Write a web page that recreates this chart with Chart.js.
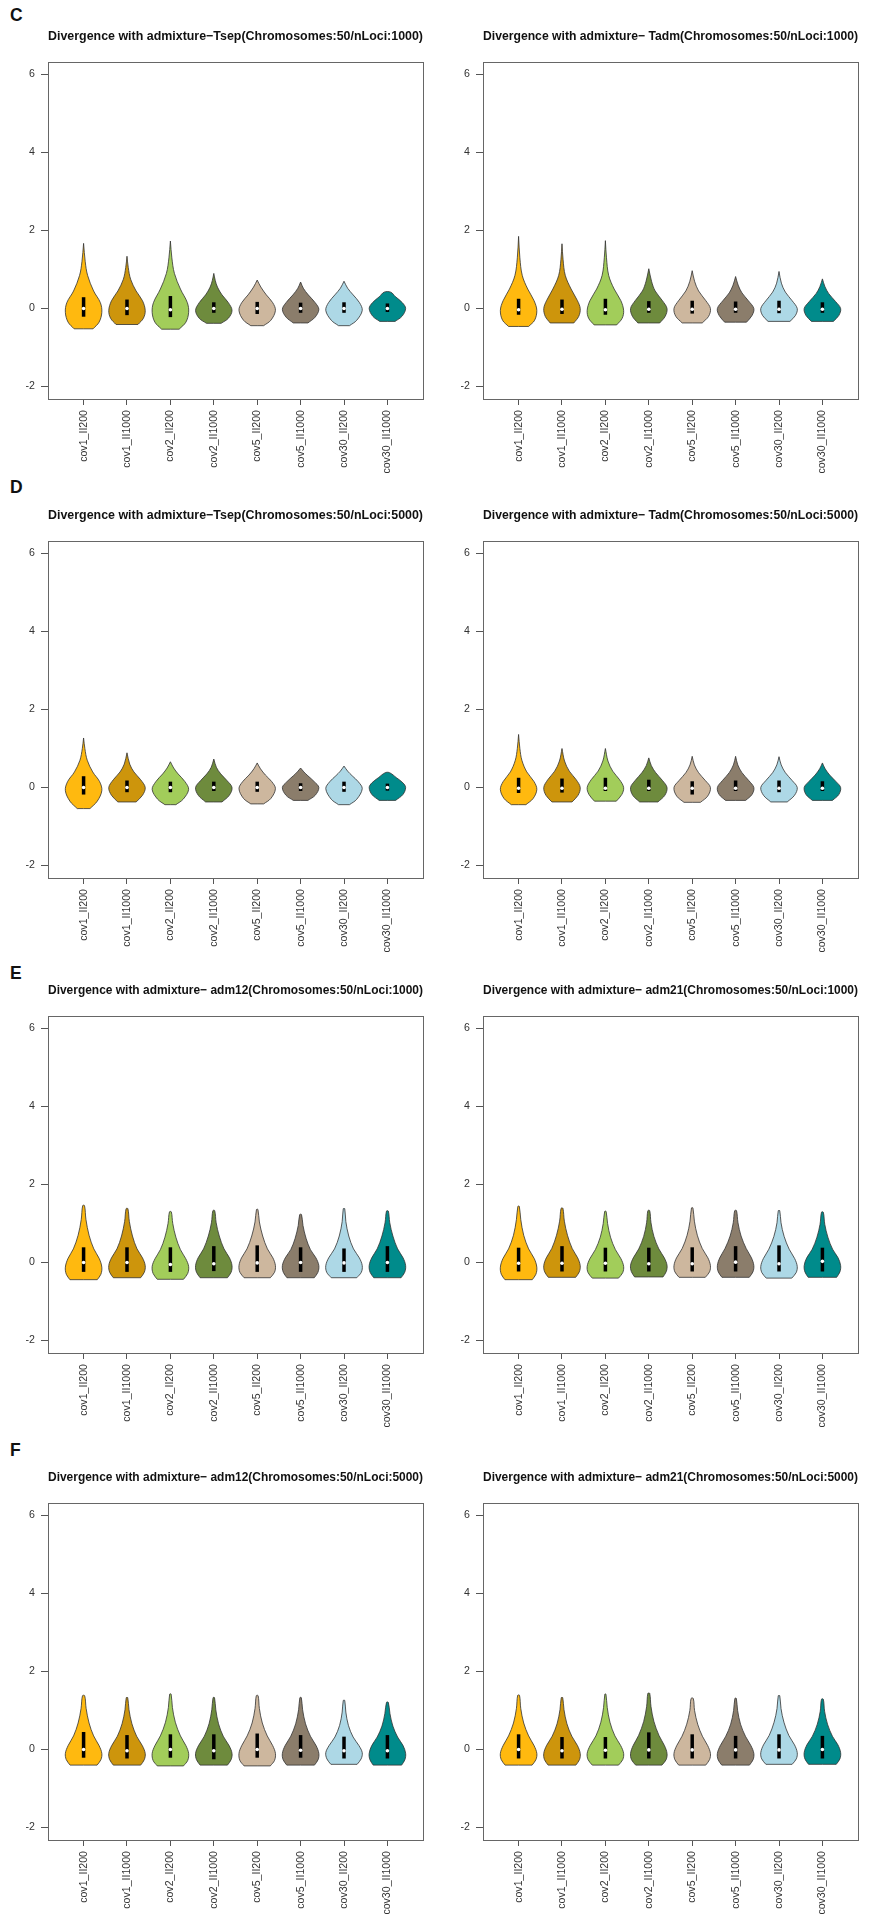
<!DOCTYPE html>
<html>
<head>
<meta charset="utf-8">
<title>Divergence with admixture</title>
<script src="https://cdn.jsdelivr.net/npm/chart.js@4.4.1/dist/chart.umd.min.js"></script>
<style>
  body { margin: 0; width: 869px; height: 1917px; overflow: hidden; background: #fff; position: relative;
         font-family: "Liberation Sans", Arial, sans-serif; }
  canvas { position: absolute; }
  .tag { position: absolute; left: 10px; font-weight: bold; font-size: 17.5px; line-height: 1; color: #111; }
</style>
</head>
<body>
<div class="tag" style="top:6.5px">C</div>
<div class="tag" style="top:478.5px">D</div>
<div class="tag" style="top:964.5px">E</div>
<div class="tag" style="top:1441.5px">F</div>

<script>
// categories and shared axis settings
const categories = ['cov1_II200', 'cov1_II1000', 'cov2_II200', 'cov2_II1000',
                    'cov5_II200', 'cov5_II1000', 'cov30_II200', 'cov30_II1000'];
const fills = ['#FFB90F', '#CD950C', '#A2CD5A', '#6E8B3D', '#CDB79E', '#8B7D6B', '#ADD8E6', '#008B8B'];
const yTicks = [-2, 0, 2, 4, 6];

// Each violin outline: [y, relative half width] knots, from the lower cut to the tip.
// Tsep, nLoci 1000
const tsep1000Shape = [
  [[-0.52,0.52],[-0.35,0.85],[-0.1,1],[0.15,0.92],[0.45,0.55],[0.85,0.22],[1.2,0.09],[1.67,0]],
  [[-0.41,0.6],[-0.25,0.9],[-0.05,1],[0.2,0.85],[0.45,0.5],[0.75,0.2],[1.05,0.07],[1.34,0]],
  [[-0.53,0.48],[-0.35,0.85],[-0.1,1],[0.15,0.93],[0.5,0.55],[0.9,0.22],[1.3,0.08],[1.73,0]],
  [[-0.38,0.4],[-0.25,0.8],[-0.05,1],[0.15,0.8],[0.35,0.45],[0.55,0.2],[0.72,0.08],[0.9,0]],
  [[-0.44,0.35],[-0.3,0.75],[-0.05,1],[0.15,0.85],[0.35,0.5],[0.55,0.2],[0.73,0]],
  [[-0.37,0.4],[-0.22,0.8],[-0.02,1],[0.15,0.8],[0.35,0.42],[0.52,0.15],[0.68,0]],
  [[-0.44,0.3],[-0.3,0.7],[-0.05,1],[0.15,0.85],[0.35,0.5],[0.52,0.2],[0.7,0]],
  [[-0.33,0.42],[-0.2,0.8],[0,1],[0.15,0.82],[0.3,0.45],[0.42,0.18]]
];
const tsep1000Q1 = [-0.21, -0.17, -0.22, -0.11, -0.14, -0.11, -0.11, -0.09];
const tsep1000Median = [0, 0, -0.03, 0, 0, 0, 0, 0];
const tsep1000Q3 = [0.29, 0.23, 0.32, 0.16, 0.17, 0.15, 0.16, 0.13];

// Tadm, nLoci 1000
const tadm1000Shape = [
  [[-0.46,0.55],[-0.3,0.88],[-0.05,1],[0.2,0.85],[0.5,0.5],[0.85,0.2],[1.3,0.07],[1.85,0]],
  [[-0.37,0.65],[-0.2,0.92],[0,1],[0.2,0.85],[0.5,0.5],[0.85,0.18],[1.25,0.06],[1.66,0]],
  [[-0.42,0.62],[-0.25,0.92],[-0.05,1],[0.2,0.85],[0.5,0.48],[0.85,0.18],[1.3,0.06],[1.74,0]],
  [[-0.37,0.6],[-0.2,0.9],[0,1],[0.2,0.75],[0.45,0.35],[0.7,0.15],[1.02,0]],
  [[-0.37,0.55],[-0.2,0.9],[0,1],[0.2,0.75],[0.45,0.35],[0.7,0.13],[0.97,0]],
  [[-0.35,0.6],[-0.18,0.9],[0,1],[0.2,0.7],[0.4,0.35],[0.6,0.14],[0.82,0]],
  [[-0.33,0.6],[-0.18,0.9],[0,1],[0.2,0.72],[0.42,0.35],[0.65,0.13],[0.95,0]],
  [[-0.33,0.6],[-0.18,0.9],[0,1],[0.18,0.72],[0.38,0.35],[0.56,0.14],[0.76,0]]
];
const tadm1000Q1 = [-0.16, -0.14, -0.16, -0.11, -0.13, -0.11, -0.12, -0.11];
const tadm1000Median = [-0.03, -0.02, -0.03, -0.02, -0.02, -0.02, -0.02, -0.02];
const tadm1000Q3 = [0.25, 0.23, 0.25, 0.19, 0.2, 0.18, 0.2, 0.16];

// Tsep, nLoci 5000
const tsep5000Shape = [
  [[-0.54,0.35],[-0.35,0.75],[-0.08,1],[0.15,0.88],[0.4,0.5],[0.7,0.2],[1.0,0.07],[1.27,0]],
  [[-0.37,0.5],[-0.2,0.85],[0,1],[0.2,0.75],[0.4,0.38],[0.6,0.15],[0.89,0]],
  [[-0.44,0.3],[-0.3,0.7],[-0.05,1],[0.15,0.8],[0.35,0.42],[0.5,0.18],[0.66,0]],
  [[-0.37,0.45],[-0.2,0.85],[0,1],[0.18,0.72],[0.35,0.38],[0.52,0.14],[0.73,0]],
  [[-0.42,0.35],[-0.28,0.75],[-0.03,1],[0.15,0.8],[0.32,0.45],[0.48,0.18],[0.63,0]],
  [[-0.33,0.4],[-0.2,0.8],[0,1],[0.15,0.75],[0.3,0.4],[0.4,0.18],[0.5,0]],
  [[-0.44,0.3],[-0.3,0.7],[-0.03,1],[0.15,0.78],[0.3,0.45],[0.42,0.2],[0.55,0]],
  [[-0.33,0.45],[-0.18,0.85],[0,1],[0.12,0.85],[0.25,0.5],[0.38,0.12]]
];
const tsep5000Q1 = [-0.18, -0.12, -0.12, -0.09, -0.11, -0.09, -0.11, -0.08];
const tsep5000Median = [0, 0, 0, 0, 0, 0, 0, 0];
const tsep5000Q3 = [0.29, 0.18, 0.15, 0.15, 0.15, 0.11, 0.15, 0.1];

// Tadm, nLoci 5000
const tadm5000Shape = [
  [[-0.44,0.4],[-0.28,0.8],[-0.05,1],[0.15,0.85],[0.4,0.45],[0.7,0.18],[1.0,0.07],[1.36,0]],
  [[-0.37,0.55],[-0.2,0.88],[0,1],[0.2,0.78],[0.42,0.4],[0.68,0.14],[1.0,0]],
  [[-0.35,0.6],[-0.18,0.9],[0,1],[0.2,0.78],[0.42,0.4],[0.68,0.14],[1.0,0]],
  [[-0.37,0.5],[-0.2,0.88],[0,1],[0.18,0.75],[0.38,0.38],[0.56,0.14],[0.76,0]],
  [[-0.38,0.45],[-0.22,0.85],[0,1],[0.18,0.72],[0.38,0.35],[0.58,0.12],[0.8,0]],
  [[-0.33,0.55],[-0.18,0.9],[0,1],[0.18,0.72],[0.38,0.35],[0.58,0.12],[0.8,0]],
  [[-0.37,0.45],[-0.2,0.85],[0,1],[0.18,0.72],[0.38,0.35],[0.58,0.12],[0.79,0]],
  [[-0.33,0.55],[-0.18,0.9],[0,1],[0.15,0.75],[0.32,0.4],[0.48,0.15],[0.63,0]]
];
const tadm5000Q1 = [-0.14, -0.13, -0.09, -0.09, -0.18, -0.09, -0.12, -0.09];
const tadm5000Median = [-0.02, -0.02, -0.02, -0.02, -0.02, -0.02, -0.02, -0.02];
const tadm5000Q3 = [0.25, 0.23, 0.25, 0.2, 0.16, 0.18, 0.18, 0.16];

// adm12, nLoci 1000
const adm12k1Shape = [
  [[-0.44,0.75],[-0.3,0.95],[-0.12,1],[0.1,0.86],[0.35,0.56],[0.7,0.3],[1.1,0.13],[1.46,0.05]],
  [[-0.39,0.75],[-0.25,0.95],[-0.08,1],[0.12,0.85],[0.35,0.55],[0.68,0.3],[1.05,0.13],[1.38,0.05]],
  [[-0.43,0.72],[-0.28,0.95],[-0.1,1],[0.1,0.84],[0.33,0.55],[0.65,0.3],[1.0,0.13],[1.3,0.05]],
  [[-0.39,0.75],[-0.25,0.95],[-0.08,1],[0.12,0.86],[0.35,0.56],[0.68,0.3],[1.02,0.13],[1.33,0.05]],
  [[-0.39,0.72],[-0.25,0.95],[-0.08,1],[0.12,0.86],[0.35,0.56],[0.68,0.3],[1.04,0.12],[1.36,0.04]],
  [[-0.39,0.75],[-0.25,0.95],[-0.08,1],[0.12,0.84],[0.33,0.54],[0.62,0.3],[0.95,0.13],[1.23,0.05]],
  [[-0.39,0.7],[-0.25,0.95],[-0.08,1],[0.12,0.84],[0.35,0.52],[0.68,0.26],[1.05,0.1],[1.38,0.04]],
  [[-0.39,0.75],[-0.25,0.95],[-0.08,1],[0.12,0.86],[0.35,0.56],[0.68,0.3],[1.02,0.13],[1.32,0.05]]
];
const adm12k1Q1 = [-0.24, -0.24, -0.24, -0.22, -0.24, -0.24, -0.24, -0.24];
const adm12k1Median = [0, 0, -0.05, -0.03, -0.01, 0, -0.01, 0];
const adm12k1Q3 = [0.39, 0.39, 0.39, 0.42, 0.44, 0.39, 0.36, 0.42];

// adm21, nLoci 1000
const adm21k1Shape = [
  [[-0.44,0.75],[-0.3,0.95],[-0.12,1],[0.1,0.86],[0.35,0.55],[0.7,0.28],[1.1,0.12],[1.44,0.04]],
  [[-0.38,0.75],[-0.24,0.95],[-0.08,1],[0.12,0.86],[0.36,0.56],[0.7,0.3],[1.06,0.13],[1.39,0.05]],
  [[-0.4,0.72],[-0.26,0.95],[-0.1,1],[0.1,0.85],[0.33,0.55],[0.65,0.28],[1.0,0.12],[1.31,0.04]],
  [[-0.37,0.78],[-0.23,0.96],[-0.07,1],[0.12,0.85],[0.35,0.55],[0.67,0.28],[1.02,0.12],[1.33,0.05]],
  [[-0.38,0.72],[-0.24,0.95],[-0.08,1],[0.12,0.86],[0.36,0.55],[0.7,0.28],[1.06,0.12],[1.4,0.04]],
  [[-0.38,0.75],[-0.24,0.95],[-0.08,1],[0.12,0.87],[0.36,0.58],[0.68,0.3],[1.02,0.13],[1.33,0.05]],
  [[-0.4,0.7],[-0.26,0.94],[-0.1,1],[0.1,0.86],[0.34,0.56],[0.67,0.28],[1.02,0.11],[1.33,0.04]],
  [[-0.38,0.78],[-0.24,0.96],[-0.08,1],[0.12,0.86],[0.34,0.56],[0.65,0.3],[0.98,0.13],[1.29,0.05]]
];
const adm21k1Q1 = [-0.23, -0.23, -0.23, -0.23, -0.23, -0.23, -0.23, -0.23];
const adm21k1Median = [-0.02, -0.02, -0.02, -0.03, -0.03, 0.01, -0.03, 0.03];
const adm21k1Q3 = [0.38, 0.42, 0.38, 0.38, 0.39, 0.42, 0.44, 0.38];

// adm12, nLoci 5000
const adm12k5Shape = [
  [[-0.4,0.74],[-0.26,0.95],[-0.1,1],[0.1,0.85],[0.35,0.55],[0.68,0.3],[1.05,0.14],[1.38,0.06]],
  [[-0.4,0.75],[-0.26,0.95],[-0.1,1],[0.1,0.84],[0.34,0.53],[0.66,0.27],[1.02,0.11],[1.33,0.04]],
  [[-0.42,0.72],[-0.28,0.95],[-0.1,1],[0.1,0.85],[0.35,0.55],[0.7,0.27],[1.08,0.11],[1.42,0.04]],
  [[-0.4,0.75],[-0.26,0.95],[-0.1,1],[0.1,0.84],[0.34,0.52],[0.66,0.26],[1.02,0.11],[1.33,0.04]],
  [[-0.42,0.72],[-0.28,0.95],[-0.1,1],[0.1,0.85],[0.35,0.55],[0.68,0.28],[1.05,0.12],[1.38,0.05]],
  [[-0.4,0.76],[-0.26,0.96],[-0.1,1],[0.1,0.85],[0.34,0.54],[0.66,0.27],[1.02,0.11],[1.33,0.04]],
  [[-0.38,0.72],[-0.24,0.94],[-0.08,1],[0.1,0.82],[0.32,0.5],[0.62,0.24],[0.96,0.1],[1.26,0.04]],
  [[-0.4,0.78],[-0.26,0.96],[-0.1,1],[0.1,0.86],[0.32,0.56],[0.6,0.3],[0.92,0.14],[1.21,0.05]]
];
const adm12k5Q1 = [-0.21, -0.23, -0.21, -0.25, -0.21, -0.21, -0.23, -0.23];
const adm12k5Median = [0, -0.03, 0, -0.03, 0, -0.02, -0.03, -0.03];
const adm12k5Q3 = [0.45, 0.37, 0.39, 0.39, 0.41, 0.37, 0.33, 0.37];

// adm21, nLoci 5000
const adm21k5Shape = [
  [[-0.4,0.74],[-0.26,0.95],[-0.1,1],[0.1,0.85],[0.35,0.55],[0.68,0.28],[1.05,0.12],[1.39,0.05]],
  [[-0.4,0.76],[-0.26,0.96],[-0.1,1],[0.1,0.85],[0.34,0.54],[0.66,0.27],[1.02,0.11],[1.33,0.04]],
  [[-0.4,0.72],[-0.26,0.95],[-0.1,1],[0.1,0.84],[0.35,0.52],[0.7,0.25],[1.08,0.1],[1.42,0.03]],
  [[-0.4,0.72],[-0.26,0.95],[-0.1,1],[0.1,0.86],[0.36,0.56],[0.72,0.28],[1.1,0.12],[1.44,0.05]],
  [[-0.4,0.74],[-0.26,0.95],[-0.1,1],[0.1,0.85],[0.34,0.56],[0.65,0.3],[1.0,0.13],[1.31,0.06]],
  [[-0.4,0.76],[-0.26,0.96],[-0.1,1],[0.1,0.84],[0.34,0.54],[0.65,0.27],[1.0,0.11],[1.31,0.04]],
  [[-0.38,0.72],[-0.24,0.95],[-0.08,1],[0.12,0.85],[0.36,0.54],[0.7,0.27],[1.05,0.11],[1.38,0.04]],
  [[-0.38,0.76],[-0.24,0.96],[-0.08,1],[0.12,0.85],[0.34,0.55],[0.65,0.28],[0.98,0.12],[1.29,0.05]]
];
const adm21k5Q1 = [-0.23, -0.23, -0.23, -0.23, -0.23, -0.23, -0.23, -0.23];
const adm21k5Median = [0, -0.03, -0.02, -0.01, -0.01, -0.01, -0.01, 0];
const adm21k5Q3 = [0.39, 0.32, 0.32, 0.44, 0.39, 0.35, 0.39, 0.35];

const panels = [
  { row: 0, col: 0, title: 'Divergence with admixture\u2212Tsep(Chromosomes:50/nLoci:1000)',
    shape: tsep1000Shape, q1: tsep1000Q1, med: tsep1000Median, q3: tsep1000Q3 },
  { row: 0, col: 1, title: 'Divergence with admixture\u2212 Tadm(Chromosomes:50/nLoci:1000)',
    shape: tadm1000Shape, q1: tadm1000Q1, med: tadm1000Median, q3: tadm1000Q3 },
  { row: 1, col: 0, title: 'Divergence with admixture\u2212Tsep(Chromosomes:50/nLoci:5000)',
    shape: tsep5000Shape, q1: tsep5000Q1, med: tsep5000Median, q3: tsep5000Q3 },
  { row: 1, col: 1, title: 'Divergence with admixture\u2212 Tadm(Chromosomes:50/nLoci:5000)',
    shape: tadm5000Shape, q1: tadm5000Q1, med: tadm5000Median, q3: tadm5000Q3 },
  { row: 2, col: 0, title: 'Divergence with admixture\u2212 adm12(Chromosomes:50/nLoci:1000)',
    shape: adm12k1Shape, q1: adm12k1Q1, med: adm12k1Median, q3: adm12k1Q3 },
  { row: 2, col: 1, title: 'Divergence with admixture\u2212 adm21(Chromosomes:50/nLoci:1000)',
    shape: adm21k1Shape, q1: adm21k1Q1, med: adm21k1Median, q3: adm21k1Q3 },
  { row: 3, col: 0, title: 'Divergence with admixture\u2212 adm12(Chromosomes:50/nLoci:5000)',
    shape: adm12k5Shape, q1: adm12k5Q1, med: adm12k5Median, q3: adm12k5Q3 },
  { row: 3, col: 1, title: 'Divergence with admixture\u2212 adm21(Chromosomes:50/nLoci:5000)',
    shape: adm21k5Shape, q1: adm21k5Q1, med: adm21k5Median, q3: adm21k5Q3 }
];

// page layout (px)
const boxTops = [62, 541, 1016, 1503];
const colLeft = [0, 435];
const colWidth = [435, 434];
const colPadRight = [12, 11];
const TITLE_H = 45, PLOT_H = 337, XAXIS_H = 80;
const HALF = 0.42; // widest half-width of a violin, in category units

Chart.defaults.font.family = '"Liberation Sans", Arial, sans-serif';

// box around the plotting region
const frame = {
  id: 'frame',
  afterDraw(chart) {
    const { ctx, chartArea: a } = chart;
    ctx.save();
    ctx.strokeStyle = '#666';
    ctx.lineWidth = 1;
    ctx.strokeRect(Math.round(a.left) + 0.5, Math.round(a.top) + 0.5,
                   Math.round(a.right - a.left), Math.round(a.bottom - a.top));
    ctx.restore();
  }
};

function violinSets(p) {
  const sets = [];
  p.shape.forEach(function(knots, i) {
    const x = i + 1;
    const right = knots.map(([y, w]) => ({ x: x + w * HALF, y: y }));
    const left = knots.map(([y, w]) => ({ x: x - w * HALF, y: y })).reverse();
    // repeat the lower left corner so the flat bottom stays square, then close
    const outline = right.concat(left, [left[left.length - 1], right[0]]);
    sets.push({
      data: outline,
      backgroundColor: fills[i],
      borderColor: 'rgba(50,50,50,0.8)',
      borderWidth: 1,
      fill: 'shape',
      tension: 0.35,
      pointRadius: 0,
      order: 3
    });
    // interquartile bar
    sets.push({
      data: [{ x: x, y: p.q1[i] }, { x: x, y: p.q3[i] }],
      borderColor: '#000',
      borderWidth: 3.5,
      borderCapStyle: 'butt',
      pointRadius: 0,
      fill: false,
      order: 2
    });
  });
  // medians
  sets.push({
    data: p.med.map((y, i) => ({ x: i + 1, y: y })),
    showLine: false,
    pointRadius: 1.8,
    pointBackgroundColor: '#fff',
    pointBorderWidth: 0,
    order: 1
  });
  return sets;
}

panels.forEach(function(p) {
  const canvas = document.createElement('canvas');
  canvas.width = colWidth[p.col];
  canvas.height = TITLE_H + PLOT_H + XAXIS_H;
  canvas.style.left = colLeft[p.col] + 'px';
  canvas.style.top = (boxTops[p.row] - TITLE_H) + 'px';
  document.body.appendChild(canvas);

  new Chart(canvas.getContext('2d'), {
    type: 'line',
    data: { datasets: violinSets(p) },
    options: {
      responsive: false,
      animation: false,
      devicePixelRatio: 1,
      events: [],
      layout: { padding: { left: 0, right: colPadRight[p.col], top: 0, bottom: 0 } },
      plugins: {
        legend: { display: false },
        tooltip: { enabled: false },
        title: {
          display: true,
          text: p.title,
          fullSize: false,
          color: '#111',
          font: { size: 12.7, weight: 'bold' },
          padding: { top: 11.5, bottom: 18.3 }
        }
      },
      scales: {
        x: {
          type: 'linear',
          min: 0.18,
          max: 8.82,
          afterBuildTicks: function(scale) {
            scale.ticks = categories.map((c, i) => ({ value: i + 1 }));
          },
          afterFit: function(scale) { scale.height = XAXIS_H; },
          ticks: {
            autoSkip: false,
            minRotation: 90,
            maxRotation: 90,
            padding: 5,
            color: '#333',
            font: { size: 10.6 },
            callback: function(value) { return categories[value - 1]; }
          },
          grid: { drawOnChartArea: false, tickLength: 6, color: '#555' },
          border: { display: false }
        },
        y: {
          type: 'linear',
          min: -2.32,
          max: 6.32,
          afterBuildTicks: function(scale) {
            scale.ticks = yTicks.map(v => ({ value: v }));
          },
          afterFit: function(scale) { scale.width = 48; },
          ticks: {
            padding: 6,
            color: '#333',
            font: { size: 10.6 },
            callback: function(value) { return String(value); }
          },
          grid: { drawOnChartArea: false, tickLength: 7, color: '#555' },
          border: { display: false }
        }
      }
    },
    plugins: [frame]
  });
});
</script>
</body>
</html>
